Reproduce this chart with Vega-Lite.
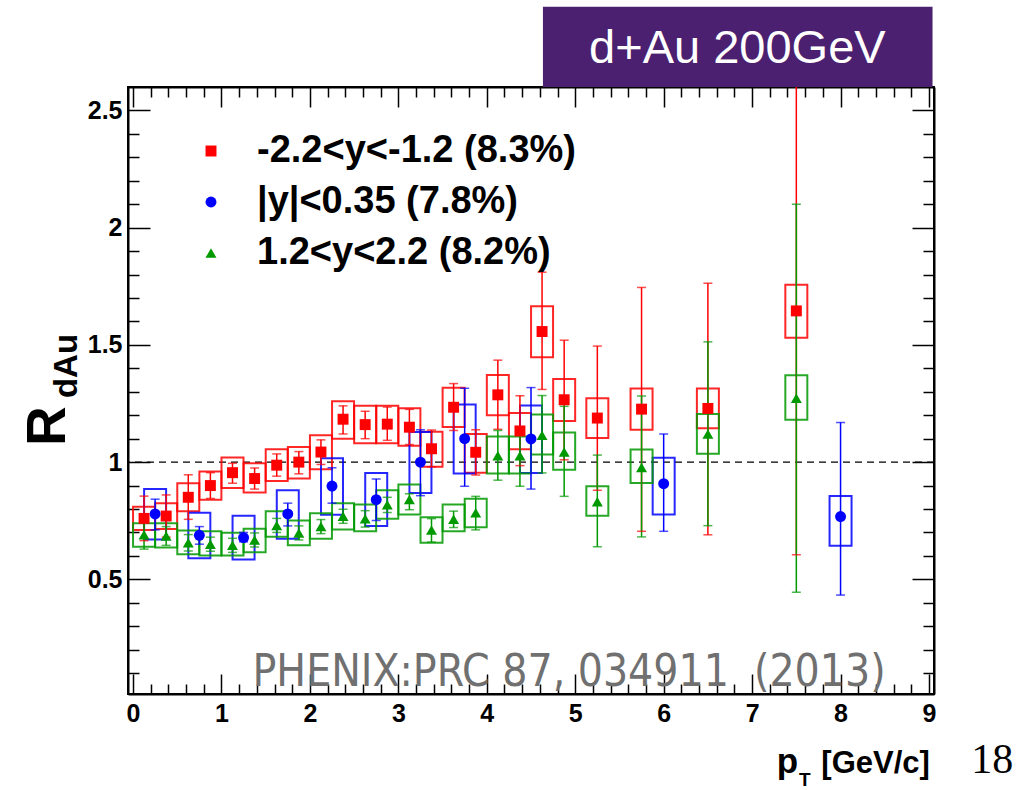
{
  "$schema": "https://vega.github.io/schema/vega-lite/v6.json",
  "width": 806,
  "height": 607,
  "autosize": {"type": "none"},
  "padding": {"left": 128, "top": 87, "right": 93, "bottom": 96},
  "background": "white",
  "config": {"view": {"stroke": "black", "strokeWidth": 2}, "font": "Liberation Sans"},
  "resolve": {"axis": {"x": "independent", "y": "independent"}},
  "datasets": {
    "pts": [
      {"series": "-2.2<y<-1.2 (8.3%)", "pT": 0.125, "val": 0.76, "sysLo": 0.71, "sysHi": 0.81, "statLo": 0.665, "statHi": 0.855},
      {"series": "-2.2<y<-1.2 (8.3%)", "pT": 0.375, "val": 0.77, "sysLo": 0.715, "sysHi": 0.825, "statLo": 0.68, "statHi": 0.86},
      {"series": "-2.2<y<-1.2 (8.3%)", "pT": 0.625, "val": 0.85, "sysLo": 0.79, "sysHi": 0.91, "statLo": 0.756, "statHi": 0.946},
      {"series": "-2.2<y<-1.2 (8.3%)", "pT": 0.875, "val": 0.9, "sysLo": 0.84, "sysHi": 0.96, "statLo": 0.845, "statHi": 0.955},
      {"series": "-2.2<y<-1.2 (8.3%)", "pT": 1.125, "val": 0.955, "sysLo": 0.89, "sysHi": 1.02, "statLo": 0.91, "statHi": 0.995},
      {"series": "-2.2<y<-1.2 (8.3%)", "pT": 1.375, "val": 0.93, "sysLo": 0.87, "sysHi": 0.995, "statLo": 0.885, "statHi": 0.975},
      {"series": "-2.2<y<-1.2 (8.3%)", "pT": 1.625, "val": 0.987, "sysLo": 0.92, "sysHi": 1.055, "statLo": 0.94, "statHi": 1.035},
      {"series": "-2.2<y<-1.2 (8.3%)", "pT": 1.875, "val": 1.0, "sysLo": 0.93, "sysHi": 1.065, "statLo": 0.95, "statHi": 1.045},
      {"series": "-2.2<y<-1.2 (8.3%)", "pT": 2.125, "val": 1.043, "sysLo": 0.97, "sysHi": 1.115, "statLo": 0.99, "statHi": 1.095},
      {"series": "-2.2<y<-1.2 (8.3%)", "pT": 2.375, "val": 1.183, "sysLo": 1.1, "sysHi": 1.26, "statLo": 1.12, "statHi": 1.24},
      {"series": "-2.2<y<-1.2 (8.3%)", "pT": 2.625, "val": 1.16, "sysLo": 1.08, "sysHi": 1.24, "statLo": 1.1, "statHi": 1.217},
      {"series": "-2.2<y<-1.2 (8.3%)", "pT": 2.875, "val": 1.162, "sysLo": 1.08, "sysHi": 1.24, "statLo": 1.093, "statHi": 1.235},
      {"series": "-2.2<y<-1.2 (8.3%)", "pT": 3.125, "val": 1.149, "sysLo": 1.07, "sysHi": 1.23, "statLo": 1.075, "statHi": 1.225},
      {"series": "-2.2<y<-1.2 (8.3%)", "pT": 3.375, "val": 1.057, "sysLo": 0.98, "sysHi": 1.13, "statLo": 0.98, "statHi": 1.137},
      {"series": "-2.2<y<-1.2 (8.3%)", "pT": 3.625, "val": 1.234, "sysLo": 1.15, "sysHi": 1.317, "statLo": 1.135, "statHi": 1.335},
      {"series": "-2.2<y<-1.2 (8.3%)", "pT": 3.875, "val": 1.042, "sysLo": 0.955, "sysHi": 1.12, "statLo": 0.945, "statHi": 1.138},
      {"series": "-2.2<y<-1.2 (8.3%)", "pT": 4.125, "val": 1.287, "sysLo": 1.2, "sysHi": 1.372, "statLo": 1.14, "statHi": 1.435},
      {"series": "-2.2<y<-1.2 (8.3%)", "pT": 4.375, "val": 1.133, "sysLo": 1.055, "sysHi": 1.21, "statLo": 0.985, "statHi": 1.283},
      {"series": "-2.2<y<-1.2 (8.3%)", "pT": 4.625, "val": 1.557, "sysLo": 1.447, "sysHi": 1.665, "statLo": 1.31, "statHi": 1.81},
      {"series": "-2.2<y<-1.2 (8.3%)", "pT": 4.875, "val": 1.266, "sysLo": 1.175, "sysHi": 1.355, "statLo": 1.01, "statHi": 1.52},
      {"series": "-2.2<y<-1.2 (8.3%)", "pT": 5.25, "val": 1.188, "sysLo": 1.103, "sysHi": 1.272, "statLo": 0.88, "statHi": 1.495},
      {"series": "-2.2<y<-1.2 (8.3%)", "pT": 5.75, "val": 1.226, "sysLo": 1.138, "sysHi": 1.314, "statLo": 0.705, "statHi": 1.745},
      {"series": "-2.2<y<-1.2 (8.3%)", "pT": 6.5, "val": 1.229, "sysLo": 1.145, "sysHi": 1.314, "statLo": 0.69, "statHi": 1.763},
      {"series": "-2.2<y<-1.2 (8.3%)", "pT": 7.5, "val": 1.645, "sysLo": 1.53, "sysHi": 1.757, "statLo": 0.605, "statHi": 2.69},
      {"series": "|y|<0.35 (7.8%)", "pT": 0.25, "val": 0.779, "sysLo": 0.67, "sysHi": 0.885, "statLo": 0.711, "statHi": 0.842},
      {"series": "|y|<0.35 (7.8%)", "pT": 0.75, "val": 0.688, "sysLo": 0.59, "sysHi": 0.784, "statLo": 0.65, "statHi": 0.725},
      {"series": "|y|<0.35 (7.8%)", "pT": 1.25, "val": 0.678, "sysLo": 0.585, "sysHi": 0.771, "statLo": 0.66, "statHi": 0.7},
      {"series": "|y|<0.35 (7.8%)", "pT": 1.75, "val": 0.779, "sysLo": 0.673, "sysHi": 0.88, "statLo": 0.728, "statHi": 0.825},
      {"series": "|y|<0.35 (7.8%)", "pT": 2.25, "val": 0.898, "sysLo": 0.776, "sysHi": 1.017, "statLo": 0.825, "statHi": 0.976},
      {"series": "|y|<0.35 (7.8%)", "pT": 2.75, "val": 0.84, "sysLo": 0.728, "sysHi": 0.954, "statLo": 0.751, "statHi": 0.928},
      {"series": "|y|<0.35 (7.8%)", "pT": 3.25, "val": 1.0, "sysLo": 0.868, "sysHi": 1.129, "statLo": 0.857, "statHi": 1.138},
      {"series": "|y|<0.35 (7.8%)", "pT": 3.75, "val": 1.1, "sysLo": 0.951, "sysHi": 1.246, "statLo": 0.897, "statHi": 1.315},
      {"series": "|y|<0.35 (7.8%)", "pT": 4.5, "val": 1.099, "sysLo": 0.954, "sysHi": 1.241, "statLo": 0.885, "statHi": 1.318},
      {"series": "|y|<0.35 (7.8%)", "pT": 6.0, "val": 0.908, "sysLo": 0.777, "sysHi": 1.019, "statLo": 0.705, "statHi": 1.12},
      {"series": "|y|<0.35 (7.8%)", "pT": 8.0, "val": 0.768, "sysLo": 0.643, "sysHi": 0.855, "statLo": 0.433, "statHi": 1.169},
      {"series": "1.2<y<2.2 (8.2%)", "pT": 0.125, "val": 0.69, "sysLo": 0.639, "sysHi": 0.739, "statLo": 0.629, "statHi": 0.751},
      {"series": "1.2<y<2.2 (8.2%)", "pT": 0.375, "val": 0.685, "sysLo": 0.636, "sysHi": 0.739, "statLo": 0.645, "statHi": 0.725},
      {"series": "1.2<y<2.2 (8.2%)", "pT": 0.625, "val": 0.656, "sysLo": 0.607, "sysHi": 0.708, "statLo": 0.621, "statHi": 0.691},
      {"series": "1.2<y<2.2 (8.2%)", "pT": 0.875, "val": 0.65, "sysLo": 0.602, "sysHi": 0.705, "statLo": 0.62, "statHi": 0.68},
      {"series": "1.2<y<2.2 (8.2%)", "pT": 1.125, "val": 0.645, "sysLo": 0.602, "sysHi": 0.699, "statLo": 0.615, "statHi": 0.675},
      {"series": "1.2<y<2.2 (8.2%)", "pT": 1.375, "val": 0.668, "sysLo": 0.616, "sysHi": 0.716, "statLo": 0.638, "statHi": 0.698},
      {"series": "1.2<y<2.2 (8.2%)", "pT": 1.625, "val": 0.73, "sysLo": 0.682, "sysHi": 0.791, "statLo": 0.7, "statHi": 0.76},
      {"series": "1.2<y<2.2 (8.2%)", "pT": 1.875, "val": 0.698, "sysLo": 0.645, "sysHi": 0.751, "statLo": 0.668, "statHi": 0.728},
      {"series": "1.2<y<2.2 (8.2%)", "pT": 2.125, "val": 0.725, "sysLo": 0.673, "sysHi": 0.782, "statLo": 0.695, "statHi": 0.755},
      {"series": "1.2<y<2.2 (8.2%)", "pT": 2.375, "val": 0.769, "sysLo": 0.713, "sysHi": 0.825, "statLo": 0.739, "statHi": 0.799},
      {"series": "1.2<y<2.2 (8.2%)", "pT": 2.625, "val": 0.758, "sysLo": 0.705, "sysHi": 0.819, "statLo": 0.723, "statHi": 0.793},
      {"series": "1.2<y<2.2 (8.2%)", "pT": 2.875, "val": 0.818, "sysLo": 0.759, "sysHi": 0.88, "statLo": 0.785, "statHi": 0.85},
      {"series": "1.2<y<2.2 (8.2%)", "pT": 3.125, "val": 0.841, "sysLo": 0.777, "sysHi": 0.905, "statLo": 0.797, "statHi": 0.865},
      {"series": "1.2<y<2.2 (8.2%)", "pT": 3.375, "val": 0.711, "sysLo": 0.656, "sysHi": 0.765, "statLo": 0.659, "statHi": 0.759},
      {"series": "1.2<y<2.2 (8.2%)", "pT": 3.625, "val": 0.756, "sysLo": 0.705, "sysHi": 0.819, "statLo": 0.721, "statHi": 0.791},
      {"series": "1.2<y<2.2 (8.2%)", "pT": 3.875, "val": 0.784, "sysLo": 0.722, "sysHi": 0.844, "statLo": 0.711, "statHi": 0.854},
      {"series": "1.2<y<2.2 (8.2%)", "pT": 4.125, "val": 1.027, "sysLo": 0.951, "sysHi": 1.109, "statLo": 0.923, "statHi": 1.135},
      {"series": "1.2<y<2.2 (8.2%)", "pT": 4.375, "val": 1.027, "sysLo": 0.951, "sysHi": 1.109, "statLo": 0.897, "statHi": 1.138},
      {"series": "1.2<y<2.2 (8.2%)", "pT": 4.625, "val": 1.115, "sysLo": 1.032, "sysHi": 1.203, "statLo": 0.954, "statHi": 1.284},
      {"series": "1.2<y<2.2 (8.2%)", "pT": 4.875, "val": 1.043, "sysLo": 0.968, "sysHi": 1.126, "statLo": 0.854, "statHi": 1.238},
      {"series": "1.2<y<2.2 (8.2%)", "pT": 5.25, "val": 0.831, "sysLo": 0.771, "sysHi": 0.897, "statLo": 0.639, "statHi": 1.03},
      {"series": "1.2<y<2.2 (8.2%)", "pT": 5.75, "val": 0.977, "sysLo": 0.911, "sysHi": 1.054, "statLo": 0.681, "statHi": 1.282},
      {"series": "1.2<y<2.2 (8.2%)", "pT": 6.5, "val": 1.12, "sysLo": 1.036, "sysHi": 1.205, "statLo": 0.729, "statHi": 1.513},
      {"series": "1.2<y<2.2 (8.2%)", "pT": 7.5, "val": 1.272, "sysLo": 1.181, "sysHi": 1.371, "statLo": 0.445, "statHi": 2.1}
    ]
  },
  "layer": [
    {
      "data": {"values": [{}]},
      "mark": {"type": "rect", "color": "#4b2070"},
      "encoding": {
        "x": {"datum": 4.635, "type": "quantitative", "axis": null},
        "x2": {"datum": 9.04},
        "y": {"datum": 2.6, "type": "quantitative", "axis": null},
        "y2": {"datum": 2.9425}
      }
    },
    {
      "data": {"values": [{}]},
      "mark": {"type": "text", "text": "d+Au 200GeV", "color": "white", "font": "Liberation Sans", "fontSize": 47, "align": "center", "baseline": "alphabetic"},
      "encoding": {
        "x": {"datum": 6.833, "type": "quantitative", "axis": null},
        "y": {"datum": 2.701, "type": "quantitative", "axis": null}
      }
    },
    {
      "data": {"values": [{}]},
      "mark": {"type": "rule", "color": "black", "strokeWidth": 1.3, "strokeDash": [7, 5]},
      "encoding": {
        "y": {"datum": 1, "type": "quantitative", "axis": null}
      }
    },
    {
      "data": {"name": "pts"},
      "mark": {"type": "bar", "filled": false, "width": 22, "strokeWidth": 2, "strokeOpacity": 0.85, "clip": true},
      "encoding": {
        "x": {
          "field": "pT", "type": "quantitative",
          "scale": {"domain": [0, 9], "nice": false, "zero": false},
          "axis": {
            "orient": "bottom", "title": null, "grid": false,
            "values": [0, 0.2, 0.4, 0.6, 0.8, 1, 1.2, 1.4, 1.6, 1.8, 2, 2.2, 2.4, 2.6, 2.8, 3, 3.2, 3.4, 3.6, 3.8, 4, 4.2, 4.4, 4.6, 4.8, 5, 5.2, 5.4, 5.6, 5.8, 6, 6.2, 6.4, 6.6, 6.8, 7, 7.2, 7.4, 7.6, 7.8, 8, 8.2, 8.4, 8.6, 8.8, 9],
            "labelExpr": "abs(datum.value - round(datum.value)) < 0.001 ? format(datum.value, 'd') : ''",
            "tickSize": {"condition": {"test": "abs(datum.value - round(datum.value)) < 0.001", "value": -20}, "value": -10},
            "tickColor": "black", "tickWidth": 1.5, "domainColor": "black", "domainWidth": 2,
            "labelFont": "Liberation Sans", "labelFontWeight": "bold", "labelFontSize": 25, "labelColor": "black",
            "labelPadding": 27, "labelFlush": false, "labelOverlap": false, "labelBound": false
          }
        },
        "y": {
          "field": "sysLo", "type": "quantitative",
          "scale": {"domain": [0.011, 2.6], "nice": false, "zero": false},
          "axis": {
            "orient": "left", "title": null, "grid": false,
            "values": [0.1, 0.2, 0.3, 0.4, 0.5, 0.6, 0.7, 0.8, 0.9, 1, 1.1, 1.2, 1.3, 1.4, 1.5, 1.6, 1.7, 1.8, 1.9, 2, 2.1, 2.2, 2.3, 2.4, 2.5],
            "labelExpr": "abs(datum.value * 2 - round(datum.value * 2)) < 0.001 ? format(datum.value, '~g') : ''",
            "tickSize": {"condition": {"test": "abs(datum.value * 2 - round(datum.value * 2)) < 0.001", "value": -22}, "value": -11},
            "tickColor": "black", "tickWidth": 1.5, "domainColor": "black", "domainWidth": 2,
            "labelFont": "Liberation Sans", "labelFontWeight": "bold", "labelFontSize": 25, "labelColor": "black",
            "labelPadding": 28, "labelFlush": false, "labelOverlap": false, "labelBound": false
          }
        },
        "y2": {"field": "sysHi"},
        "stroke": {
          "field": "series", "type": "nominal",
          "scale": {"domain": ["1.2<y<2.2 (8.2%)", "|y|<0.35 (7.8%)", "-2.2<y<-1.2 (8.3%)"], "range": ["#009900", "#0000ff", "#ff0000"]},
          "legend": null
        }
      }
    },
    {
      "data": {"name": "pts"},
      "mark": {"type": "rule", "strokeWidth": 1.5, "clip": true},
      "encoding": {
        "x": {"field": "pT", "type": "quantitative", "axis": null},
        "y": {"field": "statLo", "type": "quantitative", "axis": null},
        "y2": {"field": "statHi"},
        "stroke": {"field": "series", "type": "nominal", "legend": null}
      }
    },
    {
      "data": {"name": "pts"},
      "mark": {"type": "tick", "orient": "horizontal", "size": 9, "thickness": 1.5, "clip": true},
      "encoding": {
        "x": {"field": "pT", "type": "quantitative", "axis": null},
        "y": {"field": "statLo", "type": "quantitative", "axis": null},
        "fill": {
          "field": "series", "type": "nominal",
          "scale": {"domain": ["1.2<y<2.2 (8.2%)", "|y|<0.35 (7.8%)", "-2.2<y<-1.2 (8.3%)"], "range": ["#009900", "#0000ff", "#ff0000"]},
          "legend": null
        }
      }
    },
    {
      "data": {"name": "pts"},
      "mark": {"type": "tick", "orient": "horizontal", "size": 9, "thickness": 1.5, "clip": true},
      "encoding": {
        "x": {"field": "pT", "type": "quantitative", "axis": null},
        "y": {"field": "statHi", "type": "quantitative", "axis": null},
        "fill": {"field": "series", "type": "nominal", "legend": null}
      }
    },
    {
      "data": {"name": "pts"},
      "mark": {"type": "point", "filled": true, "size": 120, "opacity": 1, "strokeWidth": 0, "clip": true},
      "encoding": {
        "x": {
          "field": "pT", "type": "quantitative",
          "axis": {
            "orient": "top", "title": null, "grid": false, "labels": false,
            "values": [0, 0.2, 0.4, 0.6, 0.8, 1, 1.2, 1.4, 1.6, 1.8, 2, 2.2, 2.4, 2.6, 2.8, 3, 3.2, 3.4, 3.6, 3.8, 4, 4.2, 4.4, 4.6, 4.8, 5, 5.2, 5.4, 5.6, 5.8, 6, 6.2, 6.4, 6.6, 6.8, 7, 7.2, 7.4, 7.6, 7.8, 8, 8.2, 8.4, 8.6, 8.8, 9],
            "tickSize": {"condition": {"test": "abs(datum.value - round(datum.value)) < 0.001", "value": -20}, "value": -10},
            "tickColor": "black", "tickWidth": 1.5, "domainColor": "black", "domainWidth": 2
          }
        },
        "y": {
          "field": "val", "type": "quantitative",
          "axis": {
            "orient": "right", "title": null, "grid": false, "labels": false,
            "values": [0.1, 0.2, 0.3, 0.4, 0.5, 0.6, 0.7, 0.8, 0.9, 1, 1.1, 1.2, 1.3, 1.4, 1.5, 1.6, 1.7, 1.8, 1.9, 2, 2.1, 2.2, 2.3, 2.4, 2.5],
            "tickSize": {"condition": {"test": "abs(datum.value * 2 - round(datum.value * 2)) < 0.001", "value": -22}, "value": -11},
            "tickColor": "black", "tickWidth": 1.5, "domainColor": "black", "domainWidth": 2
          }
        },
        "color": {
          "field": "series", "type": "nominal",
          "scale": {"domain": ["-2.2<y<-1.2 (8.3%)", "|y|<0.35 (7.8%)", "1.2<y<2.2 (8.2%)"], "range": ["#ff0000", "#0000ff", "#009900"]},
          "legend": {"orient": "none", "legendX": 64, "legendY": 45, "title": null, "labelFont": "Liberation Sans", "labelFontWeight": "bold", "labelFontSize": 38, "labelColor": "black", "labelLimit": 700, "symbolSize": 120, "labelOffset": 27, "rowPadding": 13, "padding": 0, "symbolStrokeWidth": 0, "symbolOpacity": 1}
        },
        "shape": {
          "field": "series", "type": "nominal",
          "scale": {"domain": ["-2.2<y<-1.2 (8.3%)", "|y|<0.35 (7.8%)", "1.2<y<2.2 (8.2%)"], "range": ["square", "circle", "triangle-up"]},
          "legend": {"orient": "none", "legendX": 64, "legendY": 45, "title": null, "labelFont": "Liberation Sans", "labelFontWeight": "bold", "labelFontSize": 38, "labelColor": "black", "labelLimit": 700, "symbolSize": 120, "labelOffset": 27, "rowPadding": 13, "padding": 0, "symbolStrokeWidth": 0, "symbolOpacity": 1}
        }
      }
    },
    {
      "data": {"values": [{}]},
      "mark": {"type": "text", "text": "PHENIX:PRC 87, 034911\u00a0 (2013)", "color": "#707070", "font": "DejaVu Sans Condensed, Liberation Sans", "fontSize": 44, "align": "left", "baseline": "alphabetic"},
      "encoding": {
        "x": {"datum": 1.351, "type": "quantitative", "axis": null},
        "y": {"datum": 0.045, "type": "quantitative", "axis": null}
      }
    },
    {
      "data": {"values": [{}]},
      "mark": {"type": "text", "text": "R", "color": "black", "font": "Liberation Sans", "fontWeight": "bold", "fontSize": 55, "align": "center", "baseline": "middle", "angle": 270},
      "encoding": {
        "x": {"datum": -0.96, "type": "quantitative", "axis": null},
        "y": {"datum": 1.154, "type": "quantitative", "axis": null}
      }
    },
    {
      "data": {"values": [{}]},
      "mark": {"type": "text", "text": "dAu", "color": "black", "font": "Liberation Sans", "fontWeight": "bold", "fontSize": 33, "align": "center", "baseline": "middle", "angle": 270},
      "encoding": {
        "x": {"datum": -0.748, "type": "quantitative", "axis": null},
        "y": {"datum": 1.41, "type": "quantitative", "axis": null}
      }
    },
    {
      "data": {"values": [{}]},
      "mark": {"type": "text", "text": "p", "color": "black", "font": "Liberation Sans", "fontWeight": "bold", "fontSize": 35, "align": "center", "baseline": "alphabetic"},
      "encoding": {
        "x": {"datum": 7.4, "type": "quantitative", "axis": null},
        "y": {"datum": -0.326, "type": "quantitative", "axis": null}
      }
    },
    {
      "data": {"values": [{}]},
      "mark": {"type": "text", "text": "T", "color": "black", "font": "Liberation Sans", "fontWeight": "bold", "fontSize": 19, "align": "center", "baseline": "alphabetic"},
      "encoding": {
        "x": {"datum": 7.595, "type": "quantitative", "axis": null},
        "y": {"datum": -0.38, "type": "quantitative", "axis": null}
      }
    },
    {
      "data": {"values": [{}]},
      "mark": {"type": "text", "text": "[GeV/c]", "color": "black", "font": "Liberation Sans", "fontWeight": "bold", "fontSize": 31, "align": "right", "baseline": "alphabetic"},
      "encoding": {
        "x": {"datum": 9.01, "type": "quantitative", "axis": null},
        "y": {"datum": -0.326, "type": "quantitative", "axis": null}
      }
    },
    {
      "data": {"values": [{}]},
      "mark": {"type": "text", "text": "18", "color": "black", "font": "Liberation Serif", "fontSize": 42, "align": "center", "baseline": "alphabetic"},
      "encoding": {
        "x": {"datum": 9.714, "type": "quantitative", "axis": null},
        "y": {"datum": -0.326, "type": "quantitative", "axis": null}
      }
    }
  ]
}
